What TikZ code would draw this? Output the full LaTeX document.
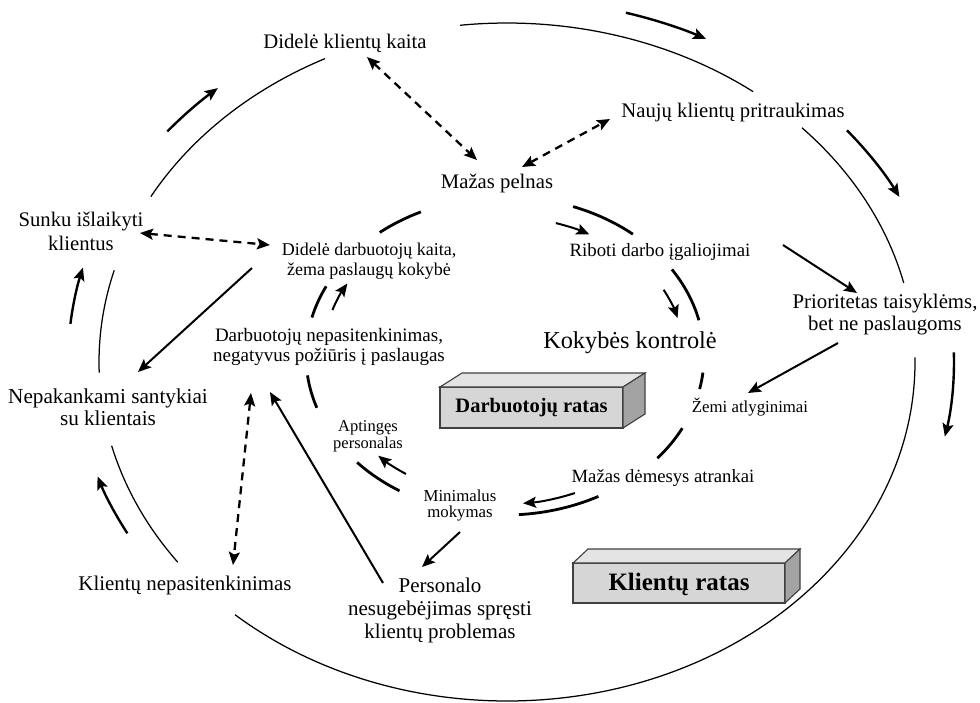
\documentclass[tikz,border=0pt]{standalone}
\usepackage{fontspec}
\setmainfont{Liberation Serif}
\usetikzlibrary{arrows.meta}
\newcommand{\lsz}[2]{\fontsize{#1}{#2}\selectfont}
\definecolor{boxfront}{HTML}{D6D6D6}
\definecolor{boxtop}{HTML}{E4E4E4}
\definecolor{boxside}{HTML}{A3A3A3}
\begin{document}
\begin{tikzpicture}[x=1pt,y=-1pt,
  lbl/.style={align=center, inner sep=0pt, text=black},
  ring/.style={line width=1.25pt},
  wheel/.style={line width=2.8pt},
  tip/.style={-{Stealth[length=13pt,width=11pt,inset=2.5pt]}},
  flow/.style={line width=2.4pt, tip},
  link/.style={line width=2pt, tip},
  twoway/.style={line width=2.3pt, dash pattern=on 8pt off 6pt,
    {Stealth[length=13pt,width=11pt,inset=2.5pt]}-{Stealth[length=13pt,width=11pt,inset=2.5pt]}},
  boxline/.style={draw=black!75, line width=1.1pt},
]
\useasboundingbox (0,0) rectangle (980,702);

% centres of the two loops
\coordinate (O) at (507,362);
\coordinate (I) at (505,356);

% ---------- labels ----------
\node[lbl, font=\lsz{20.7}{22}] (dkk) at (345,43) {Didelė klientų kaita};
\node[lbl, font=\lsz{20.7}{22}] (naujas) at (733,113) {Naujų klientų pritraukimas};
\node[lbl, font=\lsz{20.7}{22}] (pelnas) at (497,183) {Mažas pelnas};
\node[lbl, font=\lsz{20.7}{24}] (sunku) at (81,231) {Sunku išlaikyti\\klientus};
\node[lbl, font=\lsz{18}{20}] (ddk) at (369,261) {Didelė darbuotojų kaita,\\žema paslaugų kokybė};
\node[lbl, font=\lsz{18.8}{22}] (riboti) at (660,252) {Riboti darbo įgaliojimai};
\node[lbl, font=\lsz{20.8}{22}] (prior) at (885,315) {Prioritetas taisyklėms,\\bet ne paslaugoms};
\node[lbl, font=\lsz{24.3}{26}] (kokybe) at (630,343) {Kokybės kontrolė};
\node[lbl, font=\lsz{19}{20}] (dnep) at (329,347) {Darbuotojų nepasitenkinimas,\\negatyvus požiūris į paslaugas};
\node[lbl, font=\lsz{21.2}{22}] (nepak) at (108,407) {Nepakankami santykiai\\su klientais};
\node[lbl, font=\lsz{16.8}{18}] (zemi) at (750,407) {Žemi atlyginimai};
\node[lbl, font=\lsz{16.5}{17}] (apt) at (368,436) {Aptingęs\\personalas};
\node[lbl, font=\lsz{18.7}{20}] (mda) at (663,478) {Mažas dėmesys atrankai};
\node[lbl, font=\lsz{16.8}{16}] (minim) at (460,505) {Minimalus\\mokymas};
\node[lbl, font=\lsz{20.9}{22}] (knep) at (185,585) {Klientų nepasitenkinimas};
\node[lbl, font=\lsz{21}{23}] (pers) at (440,610) {Personalo\\nesugebėjimas spręsti\\klientų problemas};

% ---------- 3D boxes ----------
\filldraw[boxline, fill=boxfront] (440,387) rectangle (623,428);
\filldraw[boxline, fill=boxtop] (440,387) -- (462,373) -- (645,373) -- (623,387) -- cycle;
\filldraw[boxline, fill=boxside] (623,387) -- (645,373) -- (645,414) -- (623,428) -- cycle;
\node[lbl, font=\bfseries\lsz{20.5}{22}] (dratas) at (531.5,408) {Darbuotojų ratas};

\filldraw[boxline, fill=boxfront] (573,563) rectangle (785,603);
\filldraw[boxline, fill=boxtop] (573,563) -- (588,549) -- (800,549) -- (785,563) -- cycle;
\filldraw[boxline, fill=boxside] (785,563) -- (800,549) -- (800,589) -- (785,603) -- cycle;
\node[lbl, font=\bfseries\lsz{25}{26}] (kratas) at (679,584) {Klientų ratas};

% ---------- outer loop (customers) ----------
\draw[ring] (O) ++(209.2:408 and 339) arc[start angle=209.2, end angle=243.5, x radius=408, y radius=339];
\draw[ring] (O) ++(263.4:408 and 339) arc[start angle=263.4, end angle=307.1, x radius=408, y radius=339];
\draw[ring] (O) ++(316.3:408 and 339) arc[start angle=316.3, end angle=346.5, x radius=408, y radius=339];
\draw[ring] (O) ++(-0.8:408 and 339) arc[start angle=-0.8, end angle=131.8, x radius=408, y radius=339];
\draw[ring] (O) ++(143.8:408 and 339) arc[start angle=143.8, end angle=165.7, x radius=408, y radius=339];
\draw[ring] (O) ++(178.2:408 and 339) arc[start angle=178.2, end angle=195.7, x radius=408, y radius=339];

% direction arrows of the outer loop
\draw[flow] (O) ++(186:439 and 365) arc[start angle=186, end angle=195, x radius=439, y radius=365];
\draw[flow] (O) ++(219.3:439 and 364) arc[start angle=219.3, end angle=228.8, x radius=439, y radius=364];
\draw[flow] (O) ++(285.8:437 and 363) arc[start angle=285.8, end angle=297.1, x radius=437, y radius=363];
\draw[flow] (O) ++(320.6:440 and 365) arc[start angle=320.6, end angle=333.1, x radius=440, y radius=365];
\draw[flow] (O) ++(-1.5:447 and 371) arc[start angle=-1.5, end angle=11.6, x radius=447, y radius=371];
\draw[flow] (O) ++(151.5:432 and 359) arc[start angle=151.5, end angle=161.4, x radius=432, y radius=359];

% ---------- inner loop (employees) ----------
\draw[wheel] (I) ++(231:199 and 159) arc[start angle=231, end angle=245, x radius=199, y radius=159];
\draw[wheel] (I) ++(290:199 and 159) arc[start angle=290, end angle=310, x radius=199, y radius=159];
\draw[wheel] (I) ++(-33:199 and 159) arc[start angle=-33, end angle=-13, x radius=199, y radius=159];
\draw[wheel] (I) ++(6:199 and 159) arc[start angle=6, end angle=12, x radius=199, y radius=159];
\draw[wheel] (I) ++(27:199 and 159) arc[start angle=27, end angle=40, x radius=199, y radius=159];
\draw[wheel] (I) ++(62:199 and 159) arc[start angle=62, end angle=86, x radius=199, y radius=159];
\draw[wheel] (I) ++(122:199 and 159) arc[start angle=122, end angle=138, x radius=199, y radius=159];
\draw[wheel] (I) ++(161:199 and 159) arc[start angle=161, end angle=173, x radius=199, y radius=159];
\draw[wheel] (I) ++(194:199 and 159) arc[start angle=194, end angle=206, x radius=199, y radius=159];

% direction arrows of the inner loop
\draw[link] (I) ++(-73:174 and 139) arc[start angle=-73, end angle=-61, x radius=174, y radius=139];
\draw[link] (I) ++(-27.6:179 and 143) arc[start angle=-27.6, end angle=-15.4, x radius=179, y radius=143];
\draw[link] (I) ++(67.8:185 and 148) arc[start angle=67.8, end angle=84.4, x radius=185, y radius=148];
\draw[link] (I) ++(123.8:178 and 142) arc[start angle=123.8, end angle=135.4, x radius=178, y radius=142];
\draw[link] (I) ++(198.5:182 and 145) arc[start angle=198.5, end angle=210, x radius=182, y radius=145];

% ---------- connector end points ----------
\coordinate (ddk-o)   at (252,268);  \coordinate (nepak-i)  at (138,372);
\coordinate (riboti-o) at (783,245); \coordinate (prior-i)  at (857,293);
\coordinate (prior-o) at (838,343);  \coordinate (zemi-i)   at (748,393);
\coordinate (minim-o) at (460,532);  \coordinate (pers-i)   at (422,567);
\coordinate (pers-o)  at (383,583);  \coordinate (dnep-i)   at (270,392);
\coordinate (dkk-e)   at (367,57);   \coordinate (pelnas-n) at (477,160);
\coordinate (pelnas-e) at (522,167); \coordinate (naujas-w) at (610,119);
\coordinate (sunku-e) at (140,233);  \coordinate (ddk-w)    at (270,245);
\coordinate (dnep-s)  at (251,393);  \coordinate (knep-n)   at (233,565);

% ---------- causal links ----------
\draw[link] (ddk-o) -- (nepak-i);
\draw[link] (riboti-o) -- (prior-i);
\draw[link] (prior-o) -- (zemi-i);
\draw[link] (minim-o) -- (pers-i);
\draw[link] (pers-o) -- (dnep-i);

% ---------- two-way relations ----------
\draw[twoway] (dkk-e) -- (pelnas-n);
\draw[twoway] (pelnas-e) -- (naujas-w);
\draw[twoway] (sunku-e) -- (ddk-w);
\draw[twoway] (dnep-s) -- (knep-n);
\end{tikzpicture}
\end{document}
